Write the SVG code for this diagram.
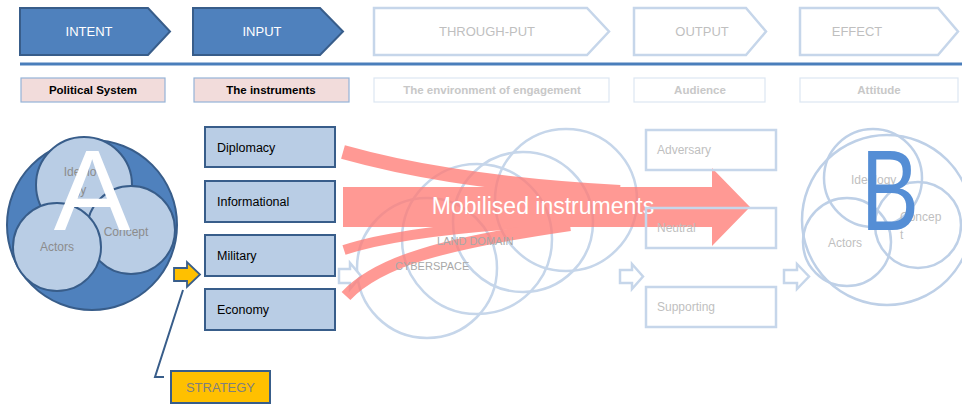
<svg xmlns="http://www.w3.org/2000/svg" width="962" height="405" viewBox="0 0 962 405">
  <style>
    text { font-family: "Liberation Sans", Arial, sans-serif; }
    .chev-on { fill: #4f81bd; stroke: #385d8a; stroke-width: 2; }
    .chev-off { fill: #ffffff; stroke: #c6d6ea; stroke-width: 2.5; }
    .chev-t { font-size: 13px; text-anchor: middle; }
    .chev-t.on { fill: #ffffff; }
    .chev-t.off { fill: #bfbfbf; }
    .lbl-on { fill: #f2dcdb; stroke: #95b3d7; stroke-width: 1.2; }
    .lbl-off { fill: #ffffff; stroke: #dce6f2; stroke-width: 1.2; }
    .lbl-t { font-size: 11.5px; font-weight: bold; text-anchor: middle; }
    .lbl-t.on { fill: #000000; }
    .lbl-t.off { fill: #c8c8c8; }
    .inst { fill: #b9cde5; stroke: #385d8a; stroke-width: 2; }
    .inst-t { font-size: 12.5px; fill: #000000; }
    .aud { fill: none; stroke: #c6d6ea; stroke-width: 2.5; }
    .aud-t { font-size: 12px; fill: #bfbfbf; }
    .env { fill: none; stroke: #c6d6ea; stroke-width: 2.5; }
    .env-t { font-size: 11px; fill: #a8a8a8; }
    .sysA { fill: #b9cde5; stroke: #385d8a; stroke-width: 2; }
    .sysA-t { font-size: 12px; fill: #8c8c8c; text-anchor: middle; }
    .sysB { fill: none; stroke: #bed0e7; stroke-width: 2.5; }
    .sysB-t { font-size: 12px; fill: #bfbfbf; }
    .hollow { fill: #ffffff; stroke: #c6d6ea; stroke-width: 2.5; stroke-linejoin: miter; }
    .band { fill: none; stroke: #ff7d77; stroke-linecap: butt; }
  </style>

  <!-- stage headers -->
  <g id="stage-intent">
    <path class="chev-on" d="M20,8 H148 L170,31.5 L148,55 H20 Z"/>
    <text class="chev-t on" x="89" y="36">INTENT</text>
  </g>
  <g id="stage-input">
    <path class="chev-on" d="M193,8 H320 L343,31.5 L320,55 H193 Z"/>
    <text class="chev-t on" x="262" y="36">INPUT</text>
  </g>
  <g id="stage-throughput">
    <path class="chev-off" d="M374,8 H587 L609,31.5 L587,55 H374 Z"/>
    <text class="chev-t off" x="487" y="36">THROUGH-PUT</text>
  </g>
  <g id="stage-output">
    <path class="chev-off" d="M634,8 H746 L766,31.5 L746,55 H634 Z"/>
    <text class="chev-t off" x="702" y="36">OUTPUT</text>
  </g>
  <g id="stage-effect">
    <path class="chev-off" d="M800,8 H938 L958,31.5 L938,55 H800 Z"/>
    <text class="chev-t off" x="857" y="36">EFFECT</text>
  </g>

  <!-- divider -->
  <line x1="20" y1="64" x2="962" y2="64" stroke="#4a7ebb" stroke-width="3"/>

  <!-- stage captions -->
  <g id="cap-political">
    <rect class="lbl-on" x="21" y="78" width="144" height="24"/>
    <text class="lbl-t on" x="93" y="94">Political System</text>
  </g>
  <g id="cap-instruments">
    <rect class="lbl-on" x="194" y="78" width="155" height="24"/>
    <text class="lbl-t on" x="271" y="94">The instruments</text>
  </g>
  <g id="cap-environment">
    <rect class="lbl-off" x="374" y="78" width="235" height="24"/>
    <text class="lbl-t off" x="492" y="94">The environment of engagement</text>
  </g>
  <g id="cap-audience">
    <rect class="lbl-off" x="634" y="78" width="131" height="24"/>
    <text class="lbl-t off" x="700" y="94">Audience</text>
  </g>
  <g id="cap-attitude">
    <rect class="lbl-off" x="800" y="78" width="158" height="24"/>
    <text class="lbl-t off" x="879" y="94">Attitude</text>
  </g>

  <!-- political system A -->
  <g id="system-a">
    <circle cx="92" cy="225" r="85" fill="#4f81bd" stroke="#385d8a" stroke-width="2"/>
    <circle class="sysA" cx="84" cy="185" r="48"/>
    <circle class="sysA" cx="131" cy="230" r="44"/>
    <circle class="sysA" cx="57" cy="247" r="44"/>
    <text class="sysA-t" x="80" y="176">Ideolo</text>
    <text class="sysA-t" x="80" y="194">gy</text>
    <text class="sysA-t" x="126" y="236">Concept</text>
    <text class="sysA-t" x="57" y="251">Actors</text>
    <text x="92" y="230" font-size="115" fill="#ffffff" text-anchor="middle">A</text>
  </g>

  <!-- instruments -->
  <g id="inst-diplomacy">
    <rect class="inst" x="205" y="127" width="130" height="40"/>
    <text class="inst-t" x="217" y="151.5">Diplomacy</text>
  </g>
  <g id="inst-informational">
    <rect class="inst" x="205" y="181" width="130" height="41"/>
    <text class="inst-t" x="217" y="206">Informational</text>
  </g>
  <g id="inst-military">
    <rect class="inst" x="205" y="235" width="130" height="41"/>
    <text class="inst-t" x="217" y="260">Military</text>
  </g>
  <g id="inst-economy">
    <rect class="inst" x="205" y="289" width="130" height="41"/>
    <text class="inst-t" x="217" y="314">Economy</text>
  </g>

  <!-- strategy -->
  <g id="strategy">
    <rect x="171" y="371" width="99" height="32" fill="#ffc000" stroke="#385d8a" stroke-width="2"/>
    <text x="220.5" y="392" font-size="13" fill="#7f7f7f" text-anchor="middle">STRATEGY</text>
  </g>

  <!-- environment of engagement: domains -->
  <g id="environment">
    <circle class="env" cx="427" cy="268" r="70"/>
    <circle class="env" cx="477" cy="239" r="75"/>
    <circle class="env" cx="523" cy="222" r="70"/>
    <circle class="env" cx="566" cy="200" r="71"/>
  </g>

  <!-- political system B -->
  <g id="system-b">
    <circle class="sysB" cx="887" cy="220" r="85"/>
    <circle class="sysB" cx="873" cy="178" r="49"/>
    <circle class="sysB" cx="918" cy="225" r="43"/>
    <circle class="sysB" cx="847" cy="242" r="44"/>
    <text class="sysB-t" x="851" y="184">Ideology</text>
    <text class="sysB-t" x="900" y="221">Concep</text>
    <text class="sysB-t" x="900" y="239">t</text>
    <text class="sysB-t" x="828" y="247">Actors</text>
    <text x="890" y="230" font-size="115" fill="#558ed5" text-anchor="middle" textLength="58" lengthAdjust="spacingAndGlyphs">B</text>
  </g>

  <!-- connectors -->
  <g id="connectors">
    <polyline points="183,290 155,377 164,377" fill="none" stroke="#385d8a" stroke-width="2"/>
    <path d="M174,268 H187 V262 L200,274.5 L187,287 V281 H174 Z" fill="#ffc000" stroke="#385d8a" stroke-width="1.8"/>
    <path class="hollow" d="M339,269 H350 V263 L361,276 L350,289 V283 H339 Z"/>
    <path class="hollow" d="M620,270 H632 V264 L643,276.5 L632,289 V283 H620 Z"/>
    <path class="hollow" d="M784,270 H797 V264 L809,276.5 L797,289 V283 H784 Z"/>
    <g id="mobilisation" opacity="0.78">
      <path class="band" d="M343,152 C400,168 480,184 620,192" stroke-width="14"/>
      <path class="band" d="M344,250 C390,235 460,226 570,221" stroke-width="10"/>
      <path class="band" d="M346,296 C378,262 440,244 570,225" stroke-width="12"/>
      <path d="M343,187 H712 V168 L750,207 L712,246 V227 H343 Z" fill="#ff7d77"/>
    </g>
    <text x="543" y="214" font-size="23" fill="#ffffff" text-anchor="middle">Mobilised instruments</text>
  </g>

  <!-- domain names sit above the mobilisation bands -->
  <g id="environment-labels">
    <text class="env-t" x="437" y="245">LAND DOMAIN</text>
    <text class="env-t" x="395" y="270">CYBERSPACE</text>
  </g>

  <!-- audiences -->
  <g id="aud-adversary">
    <rect class="aud" x="646" y="130" width="130" height="40"/>
    <text class="aud-t" x="657" y="154">Adversary</text>
  </g>
  <g id="aud-neutral">
    <rect class="aud" x="646" y="208" width="130" height="40"/>
    <text class="aud-t" x="657" y="232">Neutral</text>
  </g>
  <g id="aud-supporting">
    <rect class="aud" x="646" y="287" width="130" height="40"/>
    <text class="aud-t" x="657" y="311">Supporting</text>
  </g>
</svg>
